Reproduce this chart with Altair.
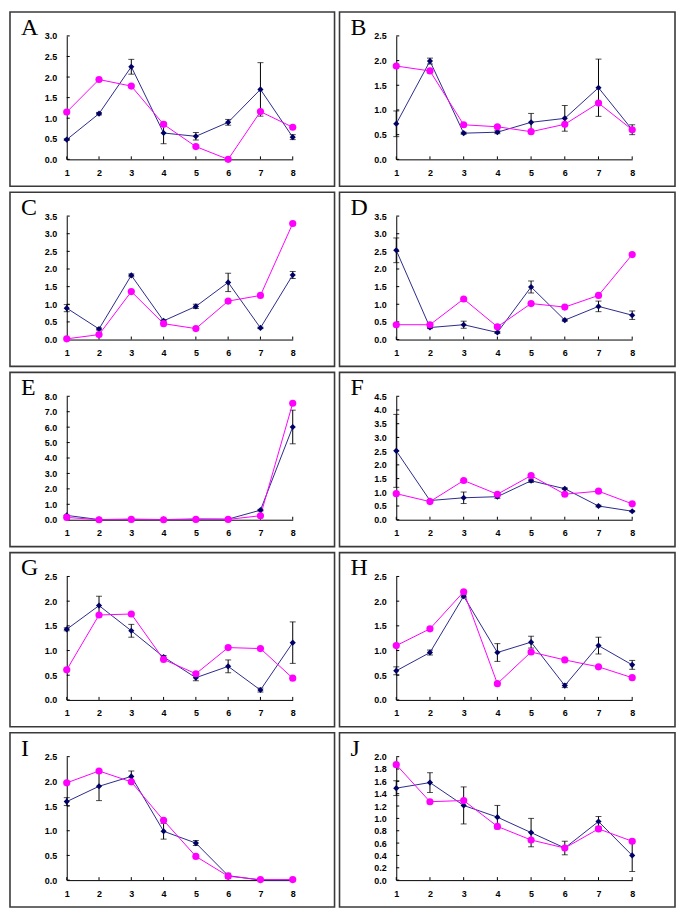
import altair as alt
import pandas as pd

x_vals = [1, 2, 3, 4, 5, 6, 7, 8]

A_blue = [0.48, 1.11, 2.25, 0.64, 0.56, 0.90, 1.70, 0.54]
A_err = [0.02, 0.03, 0.18, 0.26, 0.09, 0.07, 0.65, 0.06]
A_pink = [1.15, 1.94, 1.78, 0.85, 0.31, 0.00, 1.16, 0.78]
A_ticks = [0, 0.5, 1.0, 1.5, 2.0, 2.5, 3.0]

B_blue = [0.72, 1.99, 0.53, 0.55, 0.75, 0.83, 1.45, 0.60]
B_err = [0.26, 0.06, 0.02, 0.03, 0.18, 0.26, 0.58, 0.10]
B_pink = [1.89, 1.79, 0.70, 0.66, 0.56, 0.71, 1.14, 0.60]
B_ticks = [0, 0.5, 1.0, 1.5, 2.0, 2.5]

C_blue = [0.89, 0.30, 1.82, 0.53, 0.94, 1.62, 0.33, 1.83]
C_err = [0.10, 0.03, 0.04, 0.03, 0.06, 0.26, 0.02, 0.10]
C_pink = [0.02, 0.14, 1.36, 0.45, 0.31, 1.09, 1.25, 3.29]
C_ticks = [0, 0.5, 1.0, 1.5, 2.0, 2.5, 3.0, 3.5]

D_blue = [2.53, 0.34, 0.42, 0.20, 1.49, 0.55, 0.94, 0.69]
D_err = [0.35, 0.03, 0.10, 0.03, 0.17, 0.03, 0.15, 0.12]
D_pink = [0.42, 0.42, 1.15, 0.36, 1.02, 0.92, 1.25, 2.41]
D_ticks = [0, 0.5, 1.0, 1.5, 2.0, 2.5, 3.0, 3.5]

E_blue = [0.28, 0.01, 0.04, 0.01, 0.05, 0.04, 0.62, 6.01]
E_err = [0.02, 0.00, 0.00, 0.00, 0.00, 0.00, 0.05, 1.09]
E_pink = [0.15, 0.00, 0.02, 0.00, 0.02, 0.02, 0.26, 7.55]
E_ticks = [0, 1, 2, 3, 4, 5, 6, 7, 8]

F_blue = [2.51, 0.70, 0.80, 0.84, 1.42, 1.13, 0.50, 0.31]
F_err = [1.33, 0.03, 0.21, 0.06, 0.06, 0.03, 0.03, 0.02]
F_pink = [0.95, 0.66, 1.43, 0.93, 1.61, 0.93, 1.04, 0.58]
F_ticks = [0, 0.5, 1.0, 1.5, 2.0, 2.5, 3.0, 3.5, 4.0, 4.5]

G_blue = [1.43, 1.91, 1.40, 0.87, 0.45, 0.68, 0.20, 1.16]
G_err = [0.03, 0.19, 0.13, 0.03, 0.06, 0.13, 0.04, 0.42]
G_pink = [0.61, 1.72, 1.74, 0.82, 0.53, 1.06, 1.04, 0.44]
G_ticks = [0, 0.5, 1.0, 1.5, 2.0, 2.5]

H_blue = [0.59, 0.96, 2.10, 0.96, 1.17, 0.29, 1.10, 0.71]
H_err = [0.08, 0.05, 0.03, 0.18, 0.12, 0.04, 0.17, 0.09]
H_pink = [1.10, 1.44, 2.19, 0.33, 0.97, 0.81, 0.67, 0.45]
H_ticks = [0, 0.5, 1.0, 1.5, 2.0, 2.5]

I_blue = [1.59, 1.90, 2.10, 0.99, 0.75, 0.09, 0.00, 0.00]
I_err = [0.08, 0.29, 0.11, 0.16, 0.05, 0.05, 0.00, 0.00]
I_pink = [1.97, 2.21, 1.99, 1.21, 0.48, 0.08, 0.01, 0.01]
I_ticks = [0, 0.5, 1.0, 1.5, 2.0, 2.5]

J_blue = [1.49, 1.58, 1.21, 1.02, 0.77, 0.52, 0.95, 0.40]
J_err = [0.12, 0.16, 0.30, 0.19, 0.23, 0.11, 0.08, 0.26]
J_pink = [1.87, 1.27, 1.29, 0.87, 0.65, 0.52, 0.83, 0.63]
J_ticks = [0, 0.2, 0.4, 0.6, 0.8, 1.0, 1.2, 1.4, 1.6, 1.8, 2.0]

panels = [
    ("A", A_blue, A_err, A_pink, A_ticks),
    ("B", B_blue, B_err, B_pink, B_ticks),
    ("C", C_blue, C_err, C_pink, C_ticks),
    ("D", D_blue, D_err, D_pink, D_ticks),
    ("E", E_blue, E_err, E_pink, E_ticks),
    ("F", F_blue, F_err, F_pink, F_ticks),
    ("G", G_blue, G_err, G_pink, G_ticks),
    ("H", H_blue, H_err, H_pink, H_ticks),
    ("I", I_blue, I_err, I_pink, I_ticks),
    ("J", J_blue, J_err, J_pink, J_ticks),
]

H = 124
TOP, BOTTOM, LEFT = 24, 27, 57
LABEL_FONT = "Liberation Sans"
BLUE_LINE = "#2a2a8c"
BLUE_PT = "#000066"
PINK = "#ff00ff"


def make_panel(letter, blue, err, pink, ticks, width, right):
    df = pd.DataFrame({
        "x": x_vals,
        "blue": blue,
        "err": err,
        "lo": [b - e for b, e in zip(blue, err)],
        "hi": [b + e for b, e in zip(blue, err)],
        "pink": pink,
    })
    tick_df = pd.DataFrame({"t": ticks})
    xsc = alt.Scale(domain=[1, 8], nice=False, zero=False)
    ysc = alt.Scale(domain=[0, ticks[-1]], nice=False, zero=True)
    xaxis = alt.Axis(values=x_vals, format="d", title=None, ticks=False, grid=False,
                     labelFont=LABEL_FONT, labelFontWeight="bold", labelFontSize=9,
                     labelColor="black", domainColor="black", labelPadding=9,
                     labelFlush=False)
    yaxis = alt.Axis(values=ticks, format=".1f", title=None, ticks=False, grid=False,
                     labelFont=LABEL_FONT, labelFontWeight="bold", labelFontSize=9,
                     labelColor="black", domainColor="black", labelPadding=10,
                     labelFlush=False)

    def X():
        return alt.X("x:Q", scale=xsc, axis=xaxis)

    def Y(f):
        return alt.Y(f + ":Q", scale=ysc, axis=yaxis)

    base = alt.Chart(df)
    border = alt.Chart(alt.Data(values=[{"k": 1}])).mark_rect(
        fill=None, stroke="#3a3a3a", strokeWidth=1.6
    ).encode(
        x=alt.value(-LEFT), x2=alt.value(width + right),
        y=alt.value(-TOP), y2=alt.value(H + BOTTOM),
    )
    label = alt.Chart(alt.Data(values=[{"k": 1}])).mark_text(
        text=letter, font="Liberation Serif", fontSize=24, align="left",
        baseline="alphabetic", color="black"
    ).encode(x=alt.value(-46), y=alt.value(-1))
    xt = base.mark_rule(color="black", strokeWidth=1).encode(
        x=X(), y=alt.value(H), y2=alt.value(H - 3))
    yt = alt.Chart(tick_df).mark_rule(color="black", strokeWidth=1).encode(
        y=alt.Y("t:Q", scale=ysc, axis=yaxis), x=alt.value(0), x2=alt.value(3))
    eb = base.transform_filter("datum.err > 0").mark_rule(color="black", strokeWidth=1).encode(
        x=X(), y=Y("lo"), y2="hi:Q")
    cap_lo = base.transform_filter("datum.err > 0").mark_tick(
        color="black", orient="horizontal", size=6, thickness=1).encode(x=X(), y=Y("lo"))
    cap_hi = base.transform_filter("datum.err > 0").mark_tick(
        color="black", orient="horizontal", size=6, thickness=1).encode(x=X(), y=Y("hi"))
    bline = base.mark_line(color=BLUE_LINE, strokeWidth=1).encode(x=X(), y=Y("blue"))
    bpts = base.mark_point(shape="diamond", filled=True, size=38, color=BLUE_PT,
                           opacity=1).encode(x=X(), y=Y("blue"))
    pline = base.mark_line(color=PINK, strokeWidth=1).encode(x=X(), y=Y("pink"))
    ppts = base.mark_circle(size=52, color=PINK, opacity=1).encode(x=X(), y=Y("pink"))
    return alt.layer(border, label, xt, yt, eb, cap_lo, cap_hi, bline, pline, bpts, ppts).properties(
        width=width, height=H)


LW, LR = 227, 42
RW, RR = 237, 43
GAP_X, GAP_Y = 5, 6

cells = []
for i, p in enumerate(panels):
    if i % 2 == 0:
        cells.append(make_panel(*p, width=LW, right=LR))
    else:
        cells.append(make_panel(*p, width=RW, right=RR))

chart = alt.concat(
    *cells, columns=2, bounds="flush", align="each",
    spacing={"row": BOTTOM + GAP_Y + TOP, "column": LR + GAP_X + LEFT},
    padding=1,
).configure(background="white").configure_view(stroke=None)

chart.save("out.html", embed_options={"renderer": "svg", "actions": False})
